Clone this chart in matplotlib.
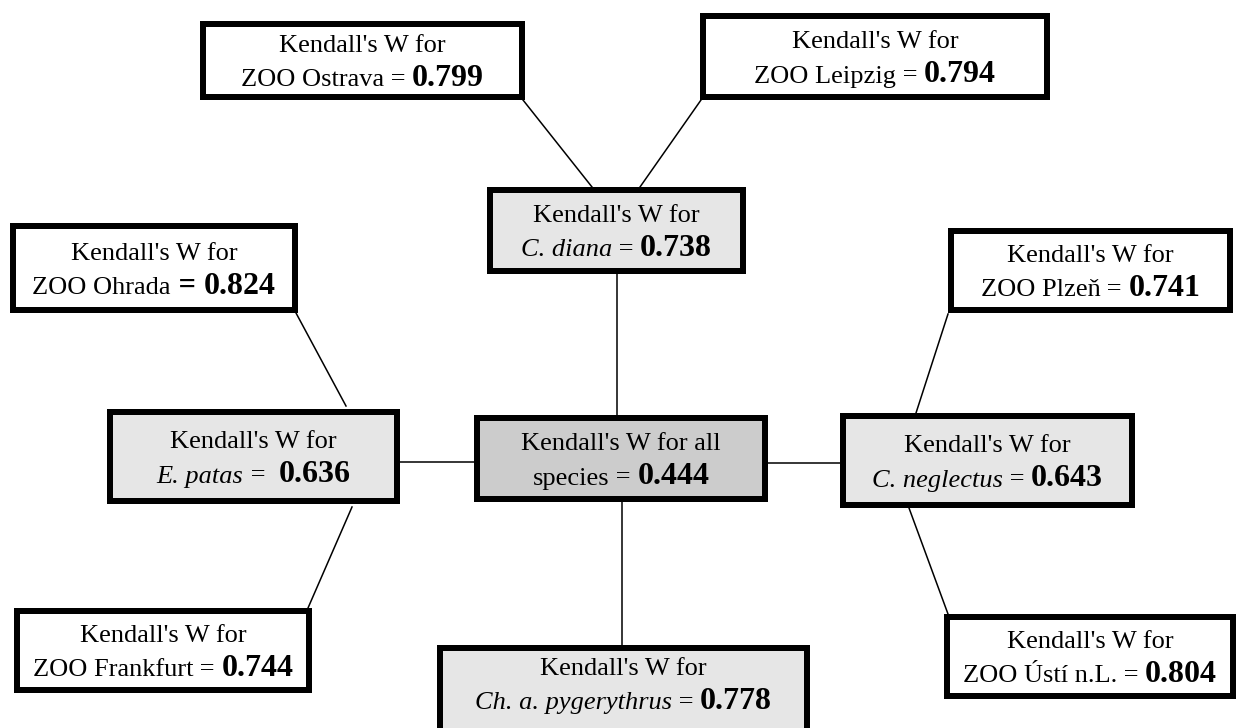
import matplotlib
matplotlib.use("Agg")
import matplotlib.pyplot as plt
from matplotlib.patches import Rectangle

plt.rcParams['font.family'] = ['Liberation Serif', 'DejaVu Serif']

# node data
names = ["ZOO Ostrava", "ZOO Leipzig", "C. diana", "ZOO Ohrada", "ZOO Plzeň",
         "E. patas", "all", "C. neglectus", "ZOO Frankfurt",
         "Ch. a. pygerythrus", "ZOO Ústí n.L."]
values = ["0.799", "0.794", "0.738", "0.824", "0.741",
          "0.636", "0.444", "0.643", "0.744", "0.778", "0.804"]
kinds = ["zoo", "zoo", "species", "zoo", "zoo",
         "species", "all", "species", "zoo", "species", "zoo"]
# the "=" sign as typed in the original (Ohrada's is bold, patas has an extra space)
signs = [" = ", " = ", " = ", " = ", " = ", " =  ", " = ", " = ", " = ", " = ", " = "]
bold_sign = [False, False, False, True, False, False, False, False, False, False, False]

# box layout in pixels (outer edges): x0, y0, x1, y1
boxes = [(200, 21, 525, 100), (700, 13, 1050, 100), (487, 187, 746, 274),
         (10, 223, 298, 313), (948, 228, 1233, 313), (107, 409, 400, 504),
         (474, 415, 768, 502), (840, 413, 1135, 508), (14, 608, 312, 693),
         (437, 645, 810, 740), (944, 614, 1236, 699)]
# vertical text centre per box (None -> middle of the box)
text_mid = [None, None, None, None, None, None, None, None, None, 683, None]

# connector lines in pixels
links = [((523, 100), (592, 187)), ((701, 100), (640, 187)),
         ((617, 274), (617, 415)), ((296, 313), (346, 406)),
         ((400, 462), (474, 462)), ((768, 463), (840, 463)),
         ((622, 502), (622, 645)), ((352, 507), (308, 608)),
         ((948, 314), (916, 413)), ((909, 508), (948, 614))]

fills = {"zoo": "white", "species": "#e6e6e6", "all": "#cccccc"}
NORMAL = 19
BIG = 23
BORDER = 6  # px

fig = plt.figure(figsize=(12.36, 7.28), dpi=100)
ax = fig.add_axes([0, 0, 1, 1])
ax.set_xlim(0, 1236)
ax.set_ylim(728, 0)
ax.axis("off")

for (a, b) in links:
    ax.plot([a[0], b[0]], [a[1], b[1]], color="black", lw=1.1, zorder=1)

renderer = fig.canvas.get_renderer()


def draw_line(cx, y, parts):
    # parts: list of (text, style, weight, size); laid out side by side, centred on cx
    objs = []
    for txt, style, weight, size in parts:
        t = ax.text(0, y, txt, fontstyle=style, fontweight=weight,
                    fontsize=size, va="baseline", ha="left", zorder=3)
        objs.append(t)
    widths = [o.get_window_extent(renderer).width for o in objs]
    x = cx - sum(widths) / 2
    for o, w in zip(objs, widths):
        o.set_x(x)
        x += w


for name, val, kind, sign, bs, (x0, y0, x1, y1), tm in zip(
        names, values, kinds, signs, bold_sign, boxes, text_mid):
    h = BORDER / 2
    ax.add_patch(Rectangle((x0 + h, y0 + h), x1 - x0 - BORDER, y1 - y0 - BORDER,
                           facecolor=fills[kind], edgecolor="black",
                           lw=BORDER * 0.72, zorder=2, clip_on=True))
    cx = (x0 + x1) / 2
    cy = (y0 + y1) / 2 if tm is None else tm
    sign_part = (sign, "normal", "bold" if bs else "normal", NORMAL + (3 if bs else 0))
    if kind == "all":
        draw_line(cx, cy - 8, [("Kendall's W for all", "normal", "normal", NORMAL)])
        second = [("species", "normal", "normal", NORMAL), sign_part]
    else:
        draw_line(cx, cy - 8, [("Kendall's W for", "normal", "normal", NORMAL)])
        style = "italic" if kind == "species" else "normal"
        second = [(name, style, "normal", NORMAL), sign_part]
    second.append((val, "normal", "bold", BIG))
    draw_line(cx, cy + 26, second)

fig.savefig("out.png", dpi=100)
